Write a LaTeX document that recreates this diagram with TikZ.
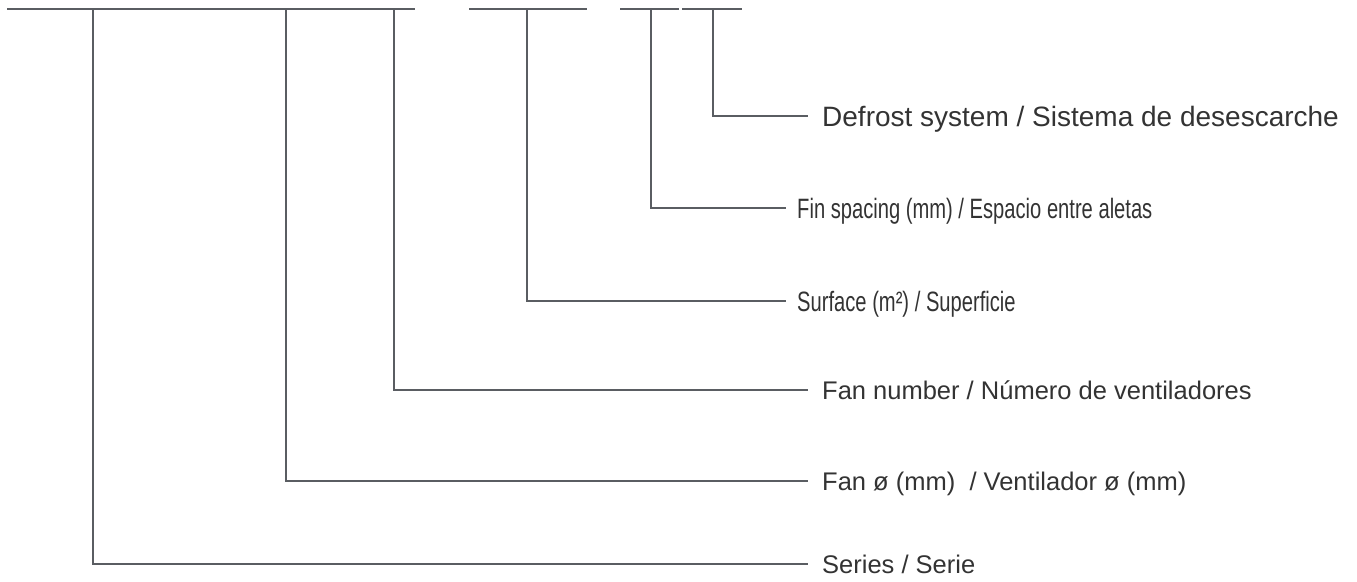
\documentclass[tikz,border=0pt]{standalone}
\usepackage{fontspec}
\setmainfont{Liberation Sans}
\newfontfamily\condfont[FakeStretch=0.72]{Liberation Sans}
\usetikzlibrary{calc}
\definecolor{linegrey}{HTML}{5A5D62}
\definecolor{textgrey}{HTML}{333333}
\tikzset{
  bar/.style={draw=linegrey, line width=2.6pt},
  conn/.style={draw=linegrey, line width=2.6pt, line join=miter},
  lbl/.style={anchor=west, inner sep=0pt, text=textgrey,
    font=\fontsize{25.5}{30}\selectfont, text height=18.3pt, text depth=0pt},
  lblbig/.style={anchor=west, inner sep=0pt, text=textgrey,
    font=\fontsize{28}{32}\selectfont, text height=20pt, text depth=0pt},
  lblcond/.style={anchor=west, inner sep=0pt, text=textgrey,
    font=\condfont\fontsize{28}{32}\selectfont, text height=20pt, text depth=0pt},
}
\begin{document}
\begin{tikzpicture}[x=1pt,y=-1pt]
\useasboundingbox (0,0) rectangle (1357,581);
% top bars
\coordinate (b1s) at (7,9);   \coordinate (b1e) at (415,9);
\coordinate (b2s) at (469,9); \coordinate (b2e) at (587,9);
\coordinate (b3s) at (620,9); \coordinate (b3e) at (679,9);
\coordinate (b4s) at (682,9); \coordinate (b4e) at (742,9);
\draw[bar] (b1s) -- (b1e);
\draw[bar] (b2s) -- (b2e);
\draw[bar] (b3s) -- (b3e);
\draw[bar] (b4s) -- (b4e);
% tap points
\coordinate (tseries) at (93,9);
\coordinate (tfand) at (286,9);
\coordinate (tfann) at (394,9);
\coordinate (tsurf) at (527,9);
\coordinate (tfin) at (651,9);
\coordinate (tdef) at (713,9);
% labels
\node[lblbig] (ldef) at (822,116) {Defrost system / Sistema de desescarche};
\node[lblcond] (lfin) at (797,208) {Fin spacing (mm) / Espacio entre aletas};
\node[lblcond] (lsurf) at (797,301) {Surface (m²) / Superficie};
\node[lbl] (lfann) at (822,390) {Fan number / Número de ventiladores};
\node[lbl] (lfand) at (822,481) {Fan ø (mm) \ / Ventilador ø (mm)};
\node[lbl] (lseries) at (822,564) {Series / Serie};
% connectors
\draw[conn] (tdef) |- ([xshift=-14pt]ldef.west);
\draw[conn] (tfin) |- ([xshift=-11pt]lfin.west);
\draw[conn] (tsurf) |- ([xshift=-11pt]lsurf.west);
\draw[conn] (tfann) |- ([xshift=-14pt]lfann.west);
\draw[conn] (tfand) |- ([xshift=-14pt]lfand.west);
\draw[conn] (tseries) |- ([xshift=-14pt]lseries.west);
\end{tikzpicture}
\end{document}
